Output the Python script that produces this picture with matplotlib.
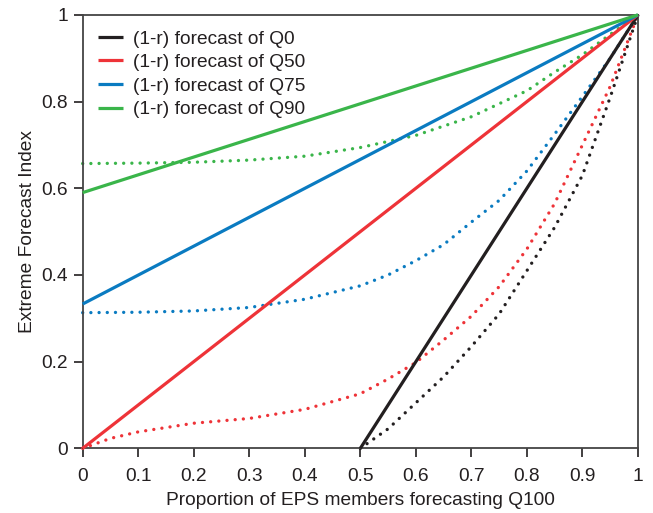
import matplotlib
matplotlib.use("Agg")
import matplotlib.pyplot as plt
from matplotlib.ticker import FixedLocator

plt.rcParams['font.family'] = ['Liberation Sans', 'DejaVu Sans']

# Solid lines: (1-r) forecast
q0_x = [0.5, 1.0];  q0_y = [0.0, 1.0]
q50_x = [0.0, 1.0]; q50_y = [0.0, 1.0]
q75_x = [0.0, 1.0]; q75_y = [0.333, 1.0]
q90_x = [0.0, 1.0]; q90_y = [0.59, 1.0]

# Dotted curves
d0_x = [0.5, 0.55, 0.6, 0.65, 0.7, 0.75, 0.8, 0.85, 0.9, 0.95, 1.0]
d0_y = [0.0, 0.045, 0.105, 0.165, 0.235, 0.31, 0.41, 0.51, 0.63, 0.81, 1.0]
d50_x = [0, 0.05, 0.1, 0.2, 0.3, 0.4, 0.5, 0.55, 0.6, 0.65, 0.7, 0.75, 0.8, 0.85, 0.9, 0.95, 1.0]
d50_y = [0, 0.023, 0.038, 0.058, 0.069, 0.09, 0.126, 0.16, 0.198, 0.25, 0.305, 0.373, 0.46, 0.565, 0.70, 0.835, 1.0]
d75_x = [0, 0.1, 0.2, 0.3, 0.4, 0.5, 0.55, 0.6, 0.65, 0.7, 0.75, 0.8, 0.85, 0.9, 0.95, 1.0]
d75_y = [0.313, 0.314, 0.317, 0.325, 0.344, 0.375, 0.40, 0.433, 0.47, 0.522, 0.572, 0.64, 0.725, 0.812, 0.90, 1.0]
d90_x = [0, 0.1, 0.2, 0.3, 0.4, 0.5, 0.6, 0.7, 0.8, 0.85, 0.9, 0.95, 1.0]
d90_y = [0.657, 0.658, 0.660, 0.665, 0.674, 0.694, 0.722, 0.765, 0.825, 0.868, 0.908, 0.955, 1.0]

labels = ['(1-r) forecast of Q0', '(1-r) forecast of Q50',
          '(1-r) forecast of Q75', '(1-r) forecast of Q90']
colors = ['#231f20', '#ee3338', '#0a7bc1', '#3ab54a']
ticks = [0, 0.1, 0.2, 0.3, 0.4, 0.5, 0.6, 0.7, 0.8, 0.9, 1.0]
xtick_labels = ['0', '0.1', '0.2', '0.3', '0.4', '0.5', '0.6', '0.7', '0.8', '0.9', '1']
yticks = [0, 0.2, 0.4, 0.6, 0.8, 1.0]
ytick_labels = ['0', '0.2', '0.4', '0.6', '0.8', '1']

FS = 13.8

fig = plt.figure(figsize=(6.53, 5.13), dpi=100)
ax = fig.add_axes([0.1266, 0.126, 0.8504, 0.845])

solids = [(q0_x, q0_y), (q50_x, q50_y), (q75_x, q75_y), (q90_x, q90_y)]
dots = [(d0_x, d0_y), (d50_x, d50_y), (d75_x, d75_y), (d90_x, d90_y)]

for (dx, dy), c in zip(dots, colors):
    ax.plot(dx, dy, color=c, lw=2.4, linestyle=(0, (0.01, 2.45)),
            dash_capstyle='round', clip_on=False, zorder=2)
for (sx, sy), c, lab in zip(solids, colors, labels):
    ax.plot(sx, sy, color=c, lw=2.3, label=lab, clip_on=False, zorder=3,
            solid_capstyle='butt')

ax.set_xlim(0, 1)
ax.set_ylim(0, 1)
ax.xaxis.set_major_locator(FixedLocator(ticks))
ax.set_xticklabels(xtick_labels)
ax.yaxis.set_major_locator(FixedLocator(yticks))
ax.set_yticklabels(ytick_labels)
ax.tick_params(direction='out', length=6.5, width=1.2, labelsize=FS, colors='#231f20')
ax.tick_params(axis='x', pad=7.5)
ax.tick_params(axis='y', pad=4)
for s in ax.spines.values():
    s.set_linewidth(1.3)
    s.set_color('#444444')

ax.set_xlabel('Proportion of EPS members forecasting Q100', fontsize=FS, color='#231f20', labelpad=5)
ax.set_ylabel('Extreme Forecast Index', fontsize=FS, color='#231f20', labelpad=4)

leg = ax.legend(loc='upper left', frameon=False, fontsize=FS, handlelength=1.3,
                handletextpad=0.5, labelspacing=0.32, borderaxespad=0.4,
                bbox_to_anchor=(0.0, 1.0))
for t in leg.get_texts():
    t.set_color('#231f20')

fig.savefig('out.png', dpi=100)
